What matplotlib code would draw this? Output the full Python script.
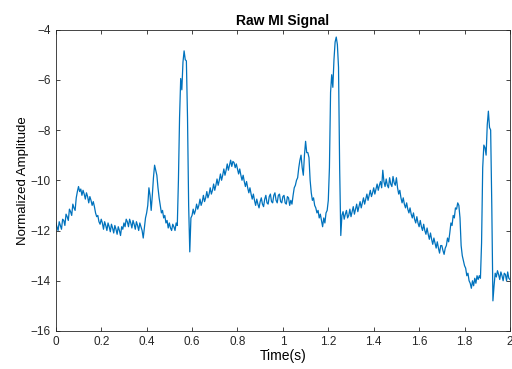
import numpy as np
import matplotlib
matplotlib.use("Agg")
import matplotlib.pyplot as plt

# sampled ECG trace, 200 Hz, read in 0.1 s rows
fs = 200
amp_a = [  # 0.0 - 0.5 s
    -11.7, -11.85, -12.0, -11.65, -11.8, -11.95, -11.55, -11.6, -11.8, -11.35, -11.45, -11.6, -11.15, -11.25, -11.4, -10.95, -11.1, -11.2, -10.7, -10.45,
    -10.25, -10.45, -10.35, -10.6, -10.4, -10.55, -10.75, -10.5, -10.65, -10.9, -10.65, -10.8, -11.0, -10.85, -11.05, -11.3, -11.45, -11.4, -11.65, -11.75,
    -11.55, -11.7, -11.95, -11.65, -11.8, -12.0, -11.7, -11.85, -12.05, -11.75, -11.9, -12.1, -11.8, -11.95, -12.15, -11.85, -12.0, -12.2, -11.85, -11.95,
    -11.7, -11.85, -11.55, -11.65, -11.85, -11.55, -11.7, -11.9, -11.6, -11.75, -11.95, -11.65, -11.8, -12.0, -11.7, -11.85, -12.0, -12.3, -11.9, -11.5,
    -11.3, -11.0, -10.3, -10.6, -11.2, -10.6, -9.9, -9.4, -9.6, -9.8, -10.3, -10.7, -11.0, -11.3, -11.2, -11.5, -11.4, -11.7, -11.6, -11.9,
]
amp_b = [  # 0.5 - 1.0 s
    -11.7, -11.9, -12.0, -11.75, -11.85, -12.0, -11.7, -11.8, -10.0, -7.5, -5.95, -6.4, -5.3, -4.85, -5.2, -5.25, -7.5, -11.0, -12.85, -11.5,
    -11.4, -11.15, -11.35, -11.2, -10.95, -11.15, -11.0, -10.75, -11.0, -10.85, -10.6, -10.85, -10.7, -10.45, -10.7, -10.55, -10.3, -10.55, -10.4, -10.15,
    -10.4, -10.2, -9.95, -10.2, -10.0, -9.75, -10.0, -9.8, -9.55, -9.8, -9.6, -9.35, -9.6, -9.4, -9.2, -9.45, -9.25, -9.3, -9.5, -9.35,
    -9.55, -9.75, -9.55, -9.8, -10.0, -9.8, -10.05, -10.25, -10.05, -10.3, -10.5, -10.3, -10.55, -10.75, -10.55, -10.8, -11.0, -10.75, -10.95, -11.1,
    -10.85, -10.7, -10.95, -11.05, -10.75, -10.6, -10.9, -10.95, -10.65, -10.55, -10.85, -10.9, -10.6, -10.5, -10.8, -10.9, -10.6, -10.55, -10.85, -10.9,
]
amp_c = [  # 1.0 - 1.5 s
    -10.65, -10.6, -10.9, -10.95, -10.65, -10.7, -11.0, -10.8, -10.95, -10.6, -10.3, -10.2, -10.0, -9.9, -9.5, -9.2, -9.0, -9.5, -9.8, -9.0,
    -8.45, -8.9, -8.9, -9.1, -10.0, -10.5, -10.8, -10.7, -11.0, -11.1, -11.3, -11.2, -11.5, -11.35, -11.6, -11.85, -11.5, -11.7, -11.3, -11.2,
    -10.8, -9.5, -6.5, -5.8, -6.3, -5.2, -4.5, -4.3, -4.6, -5.5, -9.5, -12.2, -11.4, -11.25, -11.55, -11.35, -11.2, -11.5, -11.4, -11.15,
    -11.45, -11.25, -11.05, -11.35, -11.15, -10.95, -11.25, -11.05, -10.85, -11.1, -10.9, -10.7, -10.95, -10.75, -10.55, -10.8, -10.6, -10.4, -10.65, -10.5,
    -10.3, -10.55, -10.35, -10.15, -10.4, -10.2, -10.05, -10.3, -9.6, -10.05, -10.25, -9.95, -10.2, -10.3, -9.9, -10.15, -10.25, -9.85, -10.1, -10.2,
]
amp_d = [  # 1.5 - 2.0 s
    -9.9, -10.3, -10.55, -10.4, -10.7, -10.9, -10.7, -10.95, -11.1, -10.9, -11.15, -11.3, -11.1, -11.35, -11.5, -11.3, -11.55, -11.7, -11.45, -11.7,
    -11.85, -11.6, -11.85, -12.0, -11.75, -12.0, -12.15, -11.9, -12.15, -12.35, -12.1, -12.35, -12.55, -12.3, -12.5, -12.7, -12.45, -12.7, -12.9, -12.6,
    -12.6, -12.8, -12.95, -12.7, -12.6, -12.3, -12.45, -12.1, -11.7, -11.8, -11.4, -11.5, -11.1, -11.15, -10.9, -11.0, -11.5, -12.6, -13.0, -13.2,
    -13.4, -13.5, -13.8, -13.7, -14.0, -14.1, -14.3, -14.0, -14.2, -13.9, -14.1, -13.8, -13.95, -13.8, -13.9, -12.5, -9.5, -8.6, -8.7, -9.0,
    -7.8, -7.25, -7.9, -8.0, -11.0, -14.8, -14.2, -13.7, -13.85, -13.6, -13.75, -13.95, -13.65, -13.8, -14.0, -13.7, -13.75, -14.0, -13.65, -13.9,
    -13.95,
]

amp = np.array(amp_a + amp_b + amp_c + amp_d)
t = np.arange(len(amp)) / fs

plt.rcParams['font.family'] = ['Liberation Sans', 'DejaVu Sans']
fig = plt.figure(figsize=(5.12, 3.69), dpi=100)
ax = fig.add_axes([0.109, 0.103, 0.887, 0.817])

ax.plot(t, amp, color='#0072BD', linewidth=0.9)
ax.set_xlim(0, 2)
ax.set_ylim(-16, -4)
ax.set_xticks(np.arange(0, 2.01, 0.2))
ax.set_xticklabels(['0', '0.2', '0.4', '0.6', '0.8', '1', '1.2', '1.4', '1.6', '1.8', '2'])
ax.set_yticks(np.arange(-16, -3, 2))
ax.tick_params(direction='in', top=True, right=True, labelsize=8.5, colors='#262626',
               length=3, width=0.6)
for s in ax.spines.values():
    s.set_color('#262626')
    s.set_linewidth(0.6)

ax.set_title('Raw MI Signal', fontsize=10, fontweight='bold', pad=3)
ax.set_xlabel('Time(s)', fontsize=10, labelpad=1)
ax.set_ylabel('Normalized Amplitude', fontsize=9.5, labelpad=1)

fig.savefig('out.png', dpi=100)
